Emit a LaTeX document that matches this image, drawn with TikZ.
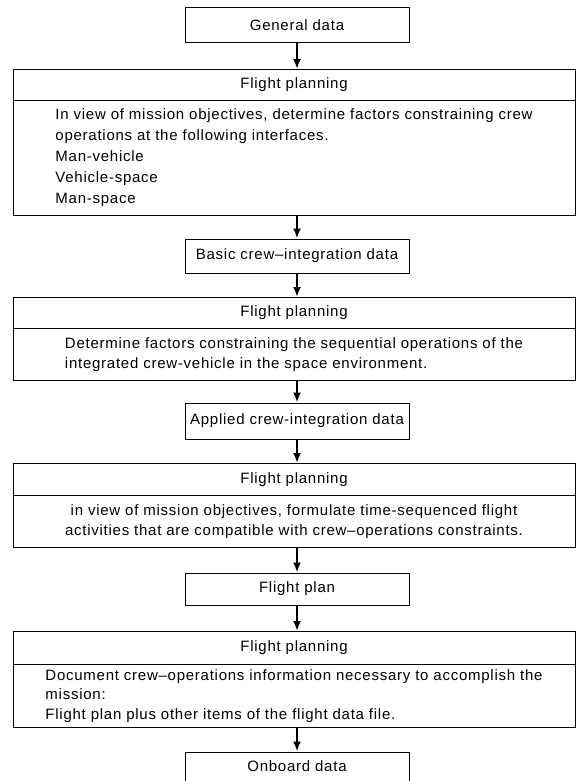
\documentclass[tikz,border=0pt]{standalone}
\usepackage{fontspec}
\setmainfont[LetterSpace=5]{Liberation Sans}
\usepackage{tikz}
\tikzset{
databox/.style={draw=black, line width=1pt, minimum width=224pt, minimum height=33pt, inner sep=0pt},
planhead/.style={draw=black, line width=1pt, minimum width=562pt, inner sep=0pt, anchor=north},
planbody/.style={draw=black, line width=1pt, minimum width=562pt, inner sep=0pt, anchor=north, align=left},
flow/.style={-{Latex[length=10pt,width=8pt]}, line width=2pt}}
\usetikzlibrary{arrows.meta}
\usetikzlibrary{positioning}

\begin{document}
\begin{tikzpicture}[x=1pt, y=-1pt, font=\fontsize{15}{19.5}\selectfont]
        \useasboundingbox (0,0) rectangle (576,781);

                    \node[databox, minimum height=35pt] (gen) at (297,25.5) {General data};
                    \node[planhead, minimum height=31pt] (plan1hd) at (294,69) {Flight planning};
                    \node[planbody, minimum height=115pt, font=\fontsize{15}{21}\selectfont] (plan1) at (294,100)
                        {In view of mission objectives, determine factors constraining crew\\
                         operations at the following interfaces.\\
                         Man-vehicle\\
                         Vehicle-space\\
                         Man-space};
                    \node[databox, minimum height=34pt] (basic) at (297,256) {Basic crew–integration data};
                    \node[planhead, minimum height=31pt] (plan2hd) at (294,297) {Flight planning};
                    \node[planbody, minimum height=52pt] (plan2) at (294,328)
                        {Determine factors constraining the sequential operations of the\\
                         integrated crew-vehicle in the space environment.};
                    \node[databox, minimum height=36pt] (applied) at (297,421) {Applied crew-integration data};
                    \node[planhead, minimum height=32pt] (plan3hd) at (294,463) {Flight planning};
                    \node[planbody, minimum height=52pt, align=center] (plan3) at (294,495)
                        {in view of mission objectives, formulate time-sequenced flight\\
                         activities that are compatible with crew–operations constraints.};
                    \node[databox, minimum height=32pt] (fplan) at (297,589) {Flight plan};
                    \node[planhead, minimum height=33pt] (plan4hd) at (294,631) {Flight planning};
                    \node[planbody, minimum height=63pt] (plan4) at (294,664)
                        {Document crew–operations information necessary to accomplish the\\
                         mission:\\
                         Flight plan plus other items of the flight data file.};
                    \node[databox, minimum height=29pt] (onboard) at (297,766.5) {Onboard data};

                    \draw[flow] (gen.south) -- (gen.south |- plan1hd.north);
                    \draw[flow] (basic.north |- plan1.south) -- (basic.north);
                    \draw[flow] (basic.south) -- (basic.south |- plan2hd.north);
                    \draw[flow] (applied.north |- plan2.south) -- (applied.north);
                    \draw[flow] (applied.south) -- (applied.south |- plan3hd.north);
                    \draw[flow] (fplan.north |- plan3.south) -- (fplan.north);
                    \draw[flow] (fplan.south) -- (fplan.south |- plan4hd.north);
                    \draw[flow] (onboard.north |- plan4.south) -- (onboard.north);

                \end{tikzpicture}
\end{document}
